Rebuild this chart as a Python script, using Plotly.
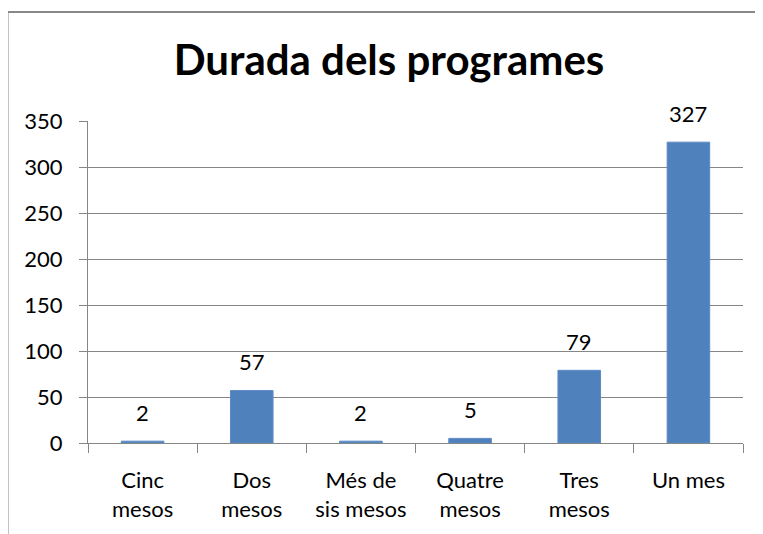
import plotly.graph_objects as go

categories = ["Cinc<br>mesos", "Dos<br>mesos", "Més de<br>sis mesos", "Quatre<br>mesos", "Tres<br>mesos", "Un mes"]
values = [2, 57, 2, 5, 79, 327]
y_ticks = [0, 50, 100, 150, 200, 250, 300, 350]
title_text = "Durada dels programes"

FONT = "Lato"
GRID = "#868686"
BAR = "#4F81BD"

fig = go.Figure()
fig.add_trace(go.Bar(
    x=categories, y=values, width=0.39,
    marker=dict(color=BAR, line=dict(color="#5B8BC4", width=1)),
    hoverinfo="skip",
))

for c, v in zip(categories, values):
    fig.add_annotation(x=c, y=v, text=str(v), showarrow=False,
                       yanchor="middle", yshift=29,
                       font=dict(family=FONT, size=22, color="#000000"))

# outer chart border: only its left and top edges are inside the window
fig.add_shape(type="line", xref="paper", yref="paper",
              x0=-0.1229, x1=-0.1229, y0=-0.4, y1=1.3385,
              line=dict(color="#888888", width=2), layer="below")
fig.add_shape(type="line", xref="paper", yref="paper",
              x0=-0.1229, x1=1.2, y0=1.3385, y1=1.3385,
              line=dict(color="#888888", width=2), layer="below")

fig.update_layout(
    width=755, height=526,
    margin=dict(l=80, r=20, t=113, b=91, autoexpand=False),
    paper_bgcolor="white", plot_bgcolor="white",
    showlegend=False,
    bargap=0.61,
    title=dict(text="<b>" + title_text + "</b>", x=381 / 755, xref="container", xanchor="center",
               y=1 - 52.5 / 526, yref="container", yanchor="middle",
               font=dict(family=FONT, size=42, color="#000000"), automargin=False),
    font=dict(family=FONT, size=22, color="#000000"),
)
fig.update_xaxes(
    type="category", showline=True, linecolor=GRID, linewidth=1,
    ticks="outside", tickson="boundaries", ticklen=9, tickcolor=GRID, tickwidth=1,
    ticklabelstandoff=18, automargin=False,
    tickfont=dict(family=FONT, size=22, color="#000000"),
    showgrid=False, zeroline=False, fixedrange=True,
)
fig.update_yaxes(
    range=[0, 350], tickvals=y_ticks, ticktext=[str(t) for t in y_ticks],
    showline=True, linecolor=GRID, linewidth=1,
    ticks="outside", ticklen=8, tickcolor=GRID, tickwidth=1,
    ticklabelstandoff=12, automargin=False,
    showgrid=True, gridcolor=GRID, gridwidth=1, zeroline=False,
    tickfont=dict(family=FONT, size=22, color="#000000"), fixedrange=True,
)

fig.write_html("out.html", config={"displayModeBar": False})
